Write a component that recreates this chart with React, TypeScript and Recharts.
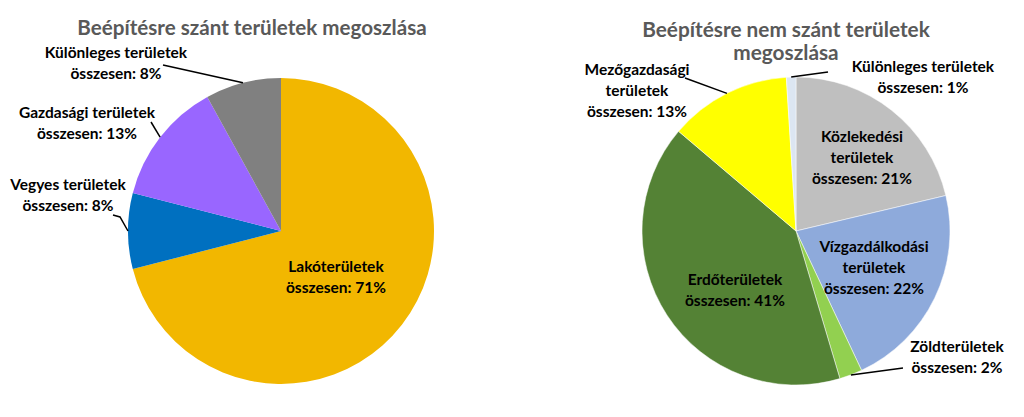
import React from 'react';
import { PieChart, Pie, Cell } from 'recharts';

// Beépítésre szánt területek (clockwise from 12 o'clock)
const LEFT_NAMES = ['Lakóterületek', 'Vegyes területek', 'Gazdasági területek', 'Különleges területek'];
const LEFT_VALUES = [71, 8, 13, 8];
const LEFT_COLORS = ['#f2b700', '#0070c0', '#9966ff', '#808080'];

// Beépítésre nem szánt területek (clockwise from 12 o'clock)
const RIGHT_NAMES = [
  'Közlekedési\nterületek',
  'Vízgazdálkodási\nterületek',
  'Zöldterületek',
  'Erdőterületek',
  'Mezőgazdasági\nterületek',
  'Különleges területek',
];
const RIGHT_VALUES = [21.3, 21.7, 2.4, 40.8, 12.8, 1.0];
const RIGHT_COLORS = ['#bfbfbf', '#8eaadb', '#92d050', '#548235', '#ffff00', '#dce6f2'];

const LEFT_TITLE = ['Beépítésre szánt területek megoszlása'];
const RIGHT_TITLE = ['Beépítésre nem szánt területek', 'megoszlása'];

// label placement: text centre x, first baseline, optional leader start points
interface LabelPos { x: number; y: number; lead?: number[][] }
const LEFT_LABELS: LabelPos[] = [
  { x: 336, y: 272 },
  { x: 68, y: 190, lead: [[113, 215], [120, 217]] },
  { x: 87, y: 118, lead: [[151, 122]] },
  { x: 116, y: 58, lead: [[163, 65]] },
];
const RIGHT_LABELS: LabelPos[] = [
  { x: 862, y: 142 },
  { x: 874, y: 252 },
  { x: 957, y: 352, lead: [[903, 368]] },
  { x: 735, y: 285 },
  { x: 637, y: 75, lead: [[685, 78]] },
  { x: 923, y: 72, lead: [[828, 72]] },
];

const FONT = 'Lato, "Open Sans", sans-serif';
const LINE_H = 21;
const RAD = Math.PI / 180;

/* eslint-disable @typescript-eslint/no-explicit-any */
function makeLabel(names: string[], values: number[], pos: LabelPos[]) {
  return (props: any) => {
    const { index, cx, cy, midAngle, outerRadius } = props;
    const p = pos[index];
    const lines = [...names[index].split('\n'), `összesen: ${Math.round(values[index])}%`];
    const ex = cx + Math.cos(-midAngle * RAD) * outerRadius;
    const ey = cy + Math.sin(-midAngle * RAD) * outerRadius;
    return (
      <g>
        {p.lead && (
          <polyline
            points={[...p.lead, [ex, ey]].map((q) => q.join(',')).join(' ')}
            fill="none"
            stroke="#000"
            strokeWidth={1.5}
          />
        )}
        {lines.map((t, i) => (
          <text
            key={i}
            x={p.x}
            y={p.y + i * LINE_H}
            textAnchor="middle"
            fontFamily={FONT}
            fontWeight={700}
            fontSize={15.5}
            fill="#000"
          >
            {t}
          </text>
        ))}
      </g>
    );
  };
}

function Title({ lines, x, y, size }: { lines: string[]; x: number; y: number; size: number }) {
  return (
    <>
      {lines.map((t, i) => (
        <text key={i} x={x} y={y + i * 23} textAnchor="middle" fontFamily={FONT} fontWeight={700} fontSize={size} fill="#595959">
          {t}
        </text>
      ))}
    </>
  );
}

export default function App() {
  const left = LEFT_NAMES.map((name, i) => ({ name, value: LEFT_VALUES[i] }));
  const right = RIGHT_NAMES.map((name, i) => ({ name, value: RIGHT_VALUES[i] }));
  return (
    <div style={{ position: 'absolute', left: 0, top: 0, width: 1024, height: 417, background: '#fff' }}>
      <PieChart width={1024} height={417} margin={{ top: 0, right: 0, bottom: 0, left: 0 }}>
        <Pie
          data={left}
          dataKey="value"
          nameKey="name"
          cx={281}
          cy={231}
          outerRadius={153}
          startAngle={90}
          endAngle={-270}
          stroke="none"
          label={makeLabel(LEFT_NAMES, LEFT_VALUES, LEFT_LABELS)}
          labelLine={false}
          isAnimationActive={false}
        >
          {left.map((_, i) => <Cell key={i} fill={LEFT_COLORS[i]} />)}
        </Pie>
        <Pie
          data={right}
          dataKey="value"
          nameKey="name"
          cx={796}
          cy={231}
          outerRadius={154}
          startAngle={90}
          endAngle={-270}
          stroke="#fff"
          strokeWidth={0.5}
          label={makeLabel(RIGHT_NAMES, RIGHT_VALUES, RIGHT_LABELS)}
          labelLine={false}
          isAnimationActive={false}
        >
          {right.map((_, i) => <Cell key={i} fill={RIGHT_COLORS[i]} />)}
        </Pie>
        <Title lines={LEFT_TITLE} x={252} y={35} size={20.6} />
        <Title lines={RIGHT_TITLE} x={786} y={37} size={20.8} />
      </PieChart>
    </div>
  );
}
